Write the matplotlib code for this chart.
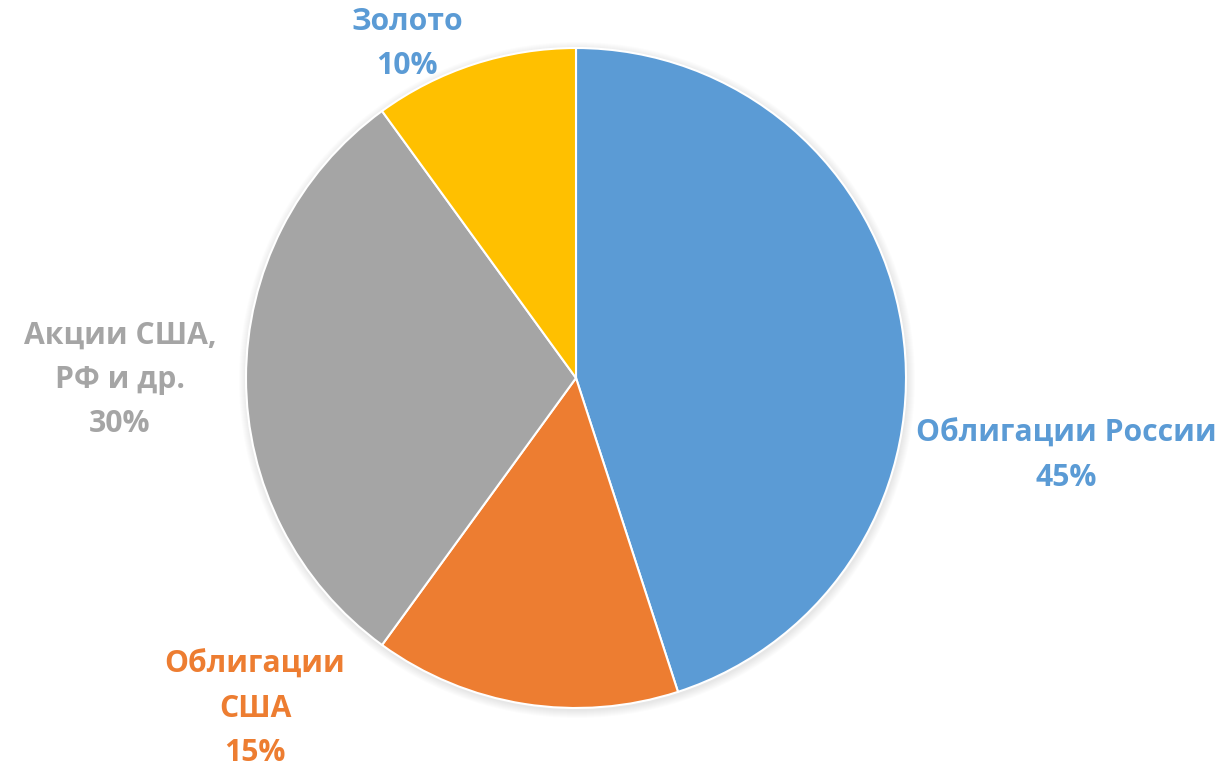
import matplotlib.pyplot as plt
from matplotlib.patches import Circle

# data
labels = ["Облигации России", "Облигации\nСША", "Акции США,\nРФ и др.", "Золото"]
shares = [45, 15, 30, 10]
colors = ["#5B9BD5", "#ED7D31", "#A5A5A5", "#FFC000"]
label_colors = ["#5B9BD5", "#ED7D31", "#A5A5A5", "#5B9BD5"]

W, H = 1227, 770
CX, CY, R = 576, 378, 330
# label centres in pixels from top-left
label_pos = [(1066, 456), (255, 709), (120, 380), (407, 44)]

plt.rcParams["font.family"] = ["Open Sans", "DejaVu Sans"]

fig = plt.figure(figsize=(W / 100, H / 100), dpi=100)
ax = fig.add_axes([0, 0, 1, 1])
ax.axis("off")

# soft shadow
for i in range(8):
    ax.add_patch(Circle((CX + 1, H - CY - 2), R + 8 - i, color="black",
                        alpha=0.012, lw=0, zorder=0))

ax.pie(shares, colors=colors, startangle=90, counterclock=False,
       center=(CX, H - CY), radius=R,
       wedgeprops=dict(edgecolor="white", linewidth=1.5))
ax.set_xlim(0, W)
ax.set_ylim(0, H)
ax.set_aspect("equal")

for lab, val, col, (px, py) in zip(labels, shares, label_colors, label_pos):
    ax.text(px, H - py, f"{lab}\n{val}%", ha="center", va="center",
            color=col, fontsize=21.7, fontweight="bold", linespacing=1.62)

fig.savefig("out.png", dpi=100)
